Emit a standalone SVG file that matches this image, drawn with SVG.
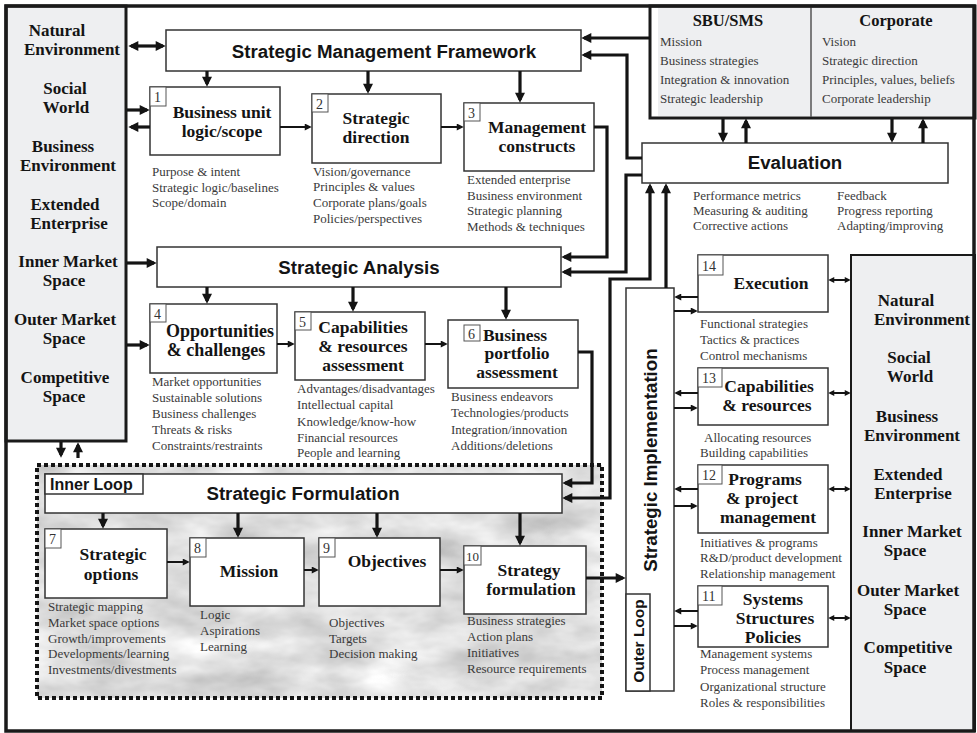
<svg xmlns="http://www.w3.org/2000/svg" width="977" height="733" viewBox="0 0 977 733">
<defs>
<style>
.frame{fill:none;stroke:#1a1a1a;stroke-width:3.5}
.panel{fill:#eeeff1;stroke:#1a1a1a;stroke-width:3}
.box{fill:#fff;stroke:#333;stroke-width:1.5}
.nb{fill:#fff;stroke:#555;stroke-width:1}
.nt{font-family:"Liberation Serif","Times New Roman",serif;font-size:14px;fill:#333}
.tt{font-family:"Liberation Serif","Times New Roman",serif;font-weight:bold;font-size:17.5px;fill:#141414;text-anchor:middle}
.env{font-family:"Liberation Serif","Times New Roman",serif;font-weight:bold;font-size:17px;fill:#141414;text-anchor:middle}
.sub{font-family:"Liberation Serif","Times New Roman",serif;font-size:13px;fill:#3a3a3a}
.hd{font-family:"Liberation Sans",Arial,sans-serif;font-weight:bold;font-size:18.7px;fill:#141414;text-anchor:middle}
.thk{fill:none;stroke:#141414;stroke-width:3.2}
.thn{fill:none;stroke:#141414;stroke-width:2}
</style>
<marker id="a" viewBox="0 0 10 10" refX="7.3" refY="5" markerWidth="11" markerHeight="10" markerUnits="userSpaceOnUse" orient="auto-start-reverse"><path d="M0,0L10,5L0,10z" fill="#141414"/></marker>
<marker id="b" viewBox="0 0 10 10" refX="7.5" refY="5" markerWidth="8" markerHeight="7" markerUnits="userSpaceOnUse" orient="auto-start-reverse"><path d="M0,0L10,5L0,10z" fill="#141414"/></marker>
<marker id="c" viewBox="0 0 10 10" refX="7.1" refY="5" markerWidth="7" markerHeight="6" markerUnits="userSpaceOnUse" orient="auto-start-reverse"><path d="M0,0L10,5L0,10z" fill="#141414"/></marker>
<filter id="marble" x="0" y="0" width="1" height="1" color-interpolation-filters="sRGB">
<feTurbulence type="fractalNoise" baseFrequency="0.014 0.03" numOctaves="4" seed="7" result="n"/>
<feColorMatrix in="n" type="matrix" values="0.35 0 0 0 0.7 0.35 0 0 0 0.7 0.35 0 0 0 0.7 0 0 0 0 1"/>
</filter>
</defs>
<rect width="977" height="733" fill="#fff"/>

<!-- Inner loop textured area -->
<g id="inner-loop-area">
<rect x="37" y="465" width="565" height="233" fill="#e2e2e2" filter="url(#marble)"/>
<rect x="37" y="465" width="565" height="233" fill="none" stroke="#141414" stroke-width="4" stroke-dasharray="4 3"/>
</g>

<!-- Left environment panel -->
<g id="left-env">
<rect class="panel" x="6" y="6" width="120" height="435"/>
<text class="env" x="57" y="36">Natural</text>
<text class="env" x="72" y="55">Environment</text>
<text class="env" x="65" y="94">Social</text>
<text class="env" x="66" y="113">World</text>
<text class="env" x="63" y="152">Business</text>
<text class="env" x="68" y="171">Environment</text>
<text class="env" x="65" y="210">Extended</text>
<text class="env" x="69" y="229">Enterprise</text>
<text class="env" x="68" y="267">Inner Market</text>
<text class="env" x="64" y="286">Space</text>
<text class="env" x="65" y="325">Outer Market</text>
<text class="env" x="64" y="344">Space</text>
<text class="env" x="65" y="383">Competitive</text>
<text class="env" x="64" y="402">Space</text>
</g>

<!-- Top-right SBU / Corporate panel -->
<g id="sbu-corporate">
<rect x="650" y="6" width="325" height="112" fill="#fff" stroke="#1a1a1a" stroke-width="3"/>
<rect x="658" y="8" width="315" height="108" fill="#eeeff1"/>
<line x1="811" y1="7" x2="811" y2="117" stroke="#555" stroke-width="1.5"/>
<text class="env" x="728" y="26" style="font-size:16.5px">SBU/SMS</text>
<text class="sub" x="660" y="46">Mission</text>
<text class="sub" x="660" y="65">Business strategies</text>
<text class="sub" x="660" y="84">Integration &amp; innovation</text>
<text class="sub" x="660" y="103">Strategic leadership</text>
<text class="env" x="896" y="26" style="font-size:16.5px">Corporate</text>
<text class="sub" x="822" y="46">Vision</text>
<text class="sub" x="822" y="65">Strategic direction</text>
<text class="sub" x="822" y="84">Principles, values, beliefs</text>
<text class="sub" x="822" y="103">Corporate leadership</text>
</g>

<!-- Right environment panel -->
<g id="right-env">
<rect x="851" y="255" width="124" height="476" fill="#eeeff1" stroke="#1a1a1a" stroke-width="2"/>
<text class="env" x="906" y="306">Natural</text>
<text class="env" x="922" y="325">Environment</text>
<text class="env" x="909" y="363">Social</text>
<text class="env" x="910" y="382">World</text>
<text class="env" x="907" y="422">Business</text>
<text class="env" x="912" y="441">Environment</text>
<text class="env" x="908" y="480">Extended</text>
<text class="env" x="913" y="499">Enterprise</text>
<text class="env" x="912" y="537">Inner Market</text>
<text class="env" x="905" y="556">Space</text>
<text class="env" x="908" y="596">Outer Market</text>
<text class="env" x="905" y="615">Space</text>
<text class="env" x="908" y="653">Competitive</text>
<text class="env" x="905" y="673">Space</text>
</g>

<!-- Frame -->
<rect class="frame" x="6" y="6" width="968" height="725"/>

<!-- Headline bars -->
<g id="smf">
<rect class="box" x="166" y="30" width="415" height="41"/>
<text class="hd" x="384" y="58">Strategic Management Framework</text>
</g>
<g id="sa">
<rect class="box" x="157" y="247" width="404" height="40"/>
<text class="hd" x="359" y="274">Strategic Analysis</text>
</g>
<g id="sf">
<rect class="box" x="45" y="474" width="517" height="39"/>
<rect class="box" x="45" y="474" width="98" height="20"/>
<text x="50" y="490" style="font-family:'Liberation Sans',Arial,sans-serif;font-weight:bold;font-size:16px;fill:#141414">Inner Loop</text>
<text class="hd" x="303" y="500">Strategic Formulation</text>
</g>
<g id="evaluation">
<rect class="box" x="642" y="143" width="306" height="40"/>
<text class="hd" x="795" y="169">Evaluation</text>
<text class="sub" x="693" y="200">Performance metrics</text>
<text class="sub" x="693" y="215">Measuring &amp; auditing</text>
<text class="sub" x="693" y="230">Corrective actions</text>
<text class="sub" x="837" y="200">Feedback</text>
<text class="sub" x="837" y="215">Progress reporting</text>
<text class="sub" x="837" y="230">Adapting/improving</text>
</g>
<g id="si">
<rect class="box" x="626" y="288" width="48" height="403"/>
<text class="hd" transform="translate(657,460) rotate(-90)">Strategic Implementation</text>
<rect class="box" x="626" y="594" width="24" height="97"/>
<text class="hd" transform="translate(644,641) rotate(-90)" style="font-size:15.5px">Outer Loop</text>
</g>

<!-- Numbered boxes -->
<g id="n1">
<rect class="box" x="150" y="87" width="130" height="68"/>
<rect class="nb" x="150" y="87" width="16" height="19"/><text class="nt" x="154" y="102">1</text>
<text class="tt" x="222" y="118">Business unit</text>
<text class="tt" x="222" y="137">logic/scope</text>
<text class="sub" x="152" y="176">Purpose &amp; intent</text>
<text class="sub" x="152" y="192">Strategic logic/baselines</text>
<text class="sub" x="152" y="207">Scope/domain</text>
</g>
<g id="n2">
<rect class="box" x="312" y="94" width="129" height="69"/>
<rect class="nb" x="312" y="94" width="16" height="18"/><text class="nt" x="316" y="109">2</text>
<text class="tt" x="376" y="124">Strategic</text>
<text class="tt" x="376" y="143">direction</text>
<text class="sub" x="313" y="176">Vision/governance</text>
<text class="sub" x="313" y="191">Principles &amp; values</text>
<text class="sub" x="313" y="207">Corporate plans/goals</text>
<text class="sub" x="313" y="223">Policies/perspectives</text>
</g>
<g id="n3">
<rect class="box" x="464" y="103" width="130" height="68"/>
<rect class="nb" x="464" y="103" width="16" height="18"/><text class="nt" x="468" y="118">3</text>
<text class="tt" x="537" y="133">Management</text>
<text class="tt" x="537" y="152">constructs</text>
<text class="sub" x="467" y="184">Extended enterprise</text>
<text class="sub" x="467" y="200">Business environment</text>
<text class="sub" x="467" y="215">Strategic planning</text>
<text class="sub" x="467" y="231">Methods &amp; techniques</text>
</g>
<g id="n4">
<rect class="box" x="150" y="304" width="127" height="69"/>
<rect class="nb" x="150" y="304" width="16" height="18"/><text class="nt" x="154" y="319">4</text>
<text class="tt" x="220" y="337" style="font-size:18px">Opportunities</text>
<text class="tt" x="216" y="356" style="font-size:18px">&amp; challenges</text>
<text class="sub" x="152" y="386">Market opportunities</text>
<text class="sub" x="152" y="402">Sustainable solutions</text>
<text class="sub" x="152" y="418">Business challenges</text>
<text class="sub" x="152" y="434">Threats &amp; risks</text>
<text class="sub" x="152" y="450">Constraints/restraints</text>
</g>
<g id="n5">
<rect class="box" x="295" y="312" width="130" height="68"/>
<rect class="nb" x="295" y="312" width="16" height="18"/><text class="nt" x="299" y="327">5</text>
<text class="tt" x="363" y="333">Capabilities</text>
<text class="tt" x="363" y="352">&amp; resources</text>
<text class="tt" x="363" y="371">assessment</text>
<text class="sub" x="297" y="393">Advantages/disadvantages</text>
<text class="sub" x="297" y="409">Intellectual capital</text>
<text class="sub" x="297" y="426">Knowledge/know-how</text>
<text class="sub" x="297" y="442">Financial resources</text>
<text class="sub" x="297" y="457">People and learning</text>
</g>
<g id="n6">
<rect class="box" x="448" y="320" width="130" height="68"/>
<rect class="nb" x="464" y="325" width="16" height="16"/><text class="nt" x="468" y="339">6</text>
<text class="tt" x="515" y="341">Business</text>
<text class="tt" x="517" y="359">portfolio</text>
<text class="tt" x="517" y="378">assessment</text>
<text class="sub" x="451" y="401">Business endeavors</text>
<text class="sub" x="451" y="417">Technologies/products</text>
<text class="sub" x="451" y="434">Integration/innovation</text>
<text class="sub" x="451" y="450">Additions/deletions</text>
</g>
<g id="n7">
<rect class="box" x="45" y="529" width="122" height="69"/>
<rect class="nb" x="45" y="529" width="16" height="19"/><text class="nt" x="49" y="544">7</text>
<text class="tt" x="113" y="560">Strategic</text>
<text class="tt" x="111" y="580">options</text>
<text class="sub" x="48" y="611">Strategic mapping</text>
<text class="sub" x="48" y="627">Market space options</text>
<text class="sub" x="48" y="643">Growth/improvements</text>
<text class="sub" x="48" y="658">Developments/learning</text>
<text class="sub" x="48" y="674">Investments/divestments</text>
</g>
<g id="n8">
<rect class="box" x="190" y="538" width="114" height="68"/>
<rect class="nb" x="190" y="538" width="16" height="19"/><text class="nt" x="194" y="553">8</text>
<text class="tt" x="249" y="577">Mission</text>
<text class="sub" x="200" y="619">Logic</text>
<text class="sub" x="200" y="635">Aspirations</text>
<text class="sub" x="200" y="651">Learning</text>
</g>
<g id="n9">
<rect class="box" x="319" y="538" width="121" height="68"/>
<rect class="nb" x="319" y="538" width="16" height="19"/><text class="nt" x="323" y="553">9</text>
<text class="tt" x="387" y="567">Objectives</text>
<text class="sub" x="329" y="627">Objectives</text>
<text class="sub" x="329" y="643">Targets</text>
<text class="sub" x="329" y="658">Decision making</text>
</g>
<g id="n10">
<rect class="box" x="464" y="546" width="122" height="68"/>
<rect class="nb" x="464" y="546" width="17" height="19"/><text class="nt" x="466" y="561" style="font-size:13px">10</text>
<text class="tt" x="529" y="576">Strategy</text>
<text class="tt" x="531" y="595">formulation</text>
<text class="sub" x="467" y="625">Business strategies</text>
<text class="sub" x="467" y="641">Action plans</text>
<text class="sub" x="467" y="657">Initiatives</text>
<text class="sub" x="467" y="673">Resource requirements</text>
</g>
<g id="n14">
<rect class="box" x="698" y="255" width="130" height="57"/>
<rect class="nb" x="698" y="255" width="25" height="20"/><text class="nt" x="702" y="271">14</text>
<text class="tt" x="771" y="289">Execution</text>
<text class="sub" x="700" y="328">Functional strategies</text>
<text class="sub" x="700" y="344">Tactics &amp; practices</text>
<text class="sub" x="700" y="360">Control mechanisms</text>
</g>
<g id="n13">
<rect class="box" x="698" y="368" width="130" height="57"/>
<rect class="nb" x="698" y="368" width="24" height="19"/><text class="nt" x="702" y="383">13</text>
<text class="tt" x="769" y="392">Capabilities</text>
<text class="tt" x="767" y="411">&amp; resources</text>
<text class="sub" x="704" y="442">Allocating resources</text>
<text class="sub" x="700" y="457">Building capabilities</text>
</g>
<g id="n12">
<rect class="box" x="698" y="465" width="130" height="68"/>
<rect class="nb" x="698" y="465" width="24" height="19"/><text class="nt" x="702" y="480">12</text>
<text class="tt" x="765" y="485">Programs</text>
<text class="tt" x="762" y="504">&amp; project</text>
<text class="tt" x="768" y="523">management</text>
<text class="sub" x="700" y="547">Initiatives &amp; programs</text>
<text class="sub" x="700" y="562">R&amp;D/product development</text>
<text class="sub" x="700" y="578">Relationship management</text>
</g>
<g id="n11">
<rect class="box" x="698" y="586" width="130" height="61"/>
<rect class="nb" x="698" y="586" width="24" height="19"/><text class="nt" x="702" y="601">11</text>
<text class="tt" x="773" y="605">Systems</text>
<text class="tt" x="775" y="624">Structures</text>
<text class="tt" x="773" y="643">Policies</text>
<text class="sub" x="700" y="658">Management systems</text>
<text class="sub" x="700" y="674">Process management</text>
<text class="sub" x="700" y="691">Organizational structure</text>
<text class="sub" x="700" y="707">Roles &amp; responsibilities</text>
</g>

<!-- Connectors -->
<g id="connectors">
<path class="thk" d="M131,46H163" marker-start="url(#a)" marker-end="url(#a)"/>
<path class="thk" d="M127,110H147" marker-end="url(#a)"/>
<path class="thk" d="M150,127H131" marker-end="url(#a)"/>
<path class="thk" d="M207,71V84" marker-end="url(#a)"/>
<path class="thk" d="M368,71V91" marker-end="url(#a)"/>
<path class="thk" d="M520,71V100" marker-end="url(#a)"/>
<path class="thn" d="M280,127H310" marker-end="url(#b)"/>
<path class="thn" d="M441,127H462" marker-end="url(#b)"/>
<path class="thk" d="M650,38H584" marker-end="url(#a)"/>
<path class="thk" d="M642,158H627V55H584" marker-end="url(#a)"/>
<path class="thk" d="M594,127H607V257H564" marker-end="url(#a)"/>
<path class="thk" d="M642,175H626V272H564" marker-end="url(#a)"/>
<path class="thk" d="M127,263H154" marker-end="url(#a)"/>
<path class="thk" d="M127,345H147" marker-end="url(#a)"/>
<path class="thk" d="M207,287V301" marker-end="url(#a)"/>
<path class="thk" d="M353,287V309" marker-end="url(#a)"/>
<path class="thk" d="M506,287V317" marker-end="url(#a)"/>
<path class="thn" d="M277,344H293" marker-end="url(#b)"/>
<path class="thn" d="M425,344H446" marker-end="url(#b)"/>
<path class="thk" d="M578,352H592V483H565" marker-end="url(#a)"/>
<path class="thk" d="M565,498H610V279H650V186" marker-start="url(#a)" marker-end="url(#a)"/>
<path class="thk" d="M666,288V186" marker-end="url(#a)"/>
<path class="thk" d="M61,442V455" marker-end="url(#a)"/>
<path class="thk" d="M78,458V445" marker-end="url(#a)"/>
<path class="thk" d="M103,513V526" marker-end="url(#a)"/>
<path class="thk" d="M238,513V535" marker-end="url(#a)"/>
<path class="thk" d="M377,513V535" marker-end="url(#a)"/>
<path class="thk" d="M520,513V543" marker-end="url(#a)"/>
<path class="thn" d="M167,562H188" marker-end="url(#b)"/>
<path class="thn" d="M304,570H317" marker-end="url(#b)"/>
<path class="thn" d="M440,570H462" marker-end="url(#b)"/>
<path class="thk" d="M586,578H623" marker-end="url(#a)"/>
<path class="thk" d="M723,119V140" marker-end="url(#a)"/>
<path class="thk" d="M746,143V121" marker-end="url(#a)"/>
<path class="thk" d="M892,119V140" marker-end="url(#a)"/>
<path class="thk" d="M923,143V121" marker-end="url(#a)"/>
<path class="thn" d="M698,297H676" marker-end="url(#b)"/>
<path class="thn" d="M674,311H696" marker-end="url(#b)"/>
<path class="thn" d="M698,393H676" marker-end="url(#b)"/>
<path class="thn" d="M674,408H696" marker-end="url(#b)"/>
<path class="thn" d="M698,489H676" marker-end="url(#b)"/>
<path class="thn" d="M674,506H696" marker-end="url(#b)"/>
<path class="thn" d="M698,611H676" marker-end="url(#b)"/>
<path class="thn" d="M674,626H696" marker-end="url(#b)"/>
<path class="thn" d="M830,280H849" marker-start="url(#c)" marker-end="url(#c)"/>
<path class="thn" d="M830,393H849" marker-start="url(#c)" marker-end="url(#c)"/>
<path class="thn" d="M830,489H849" marker-start="url(#c)" marker-end="url(#c)"/>
<path class="thn" d="M830,618H849" marker-start="url(#c)" marker-end="url(#c)"/>
</g>
</svg>
